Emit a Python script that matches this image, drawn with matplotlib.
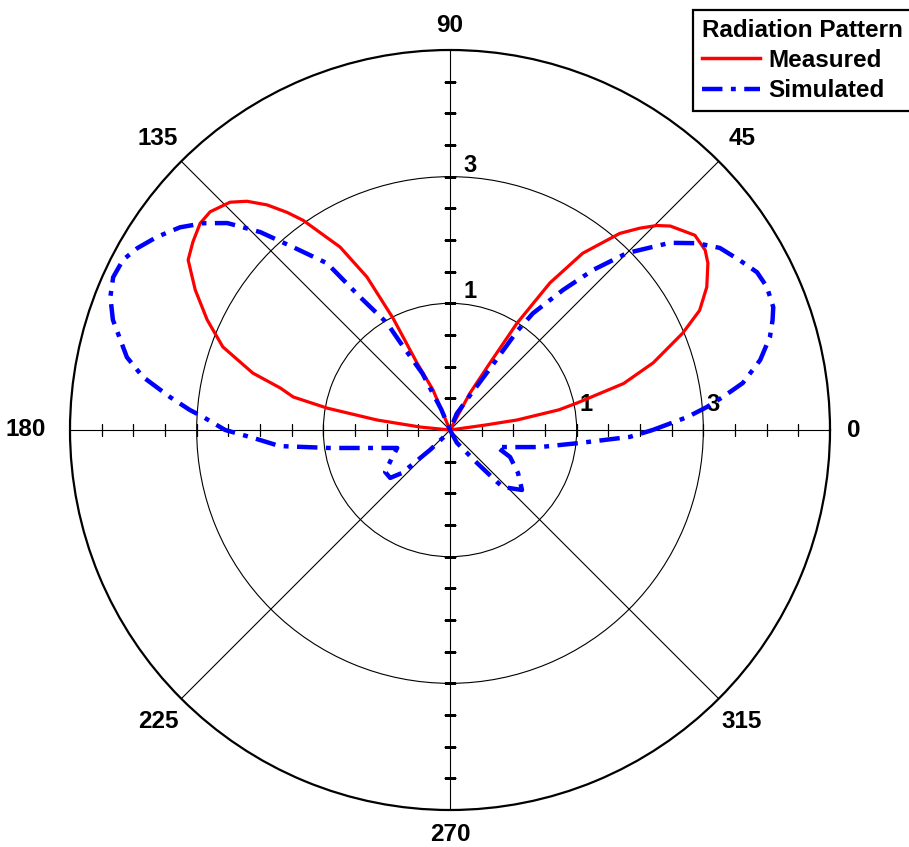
import numpy as np
import matplotlib
matplotlib.use("Agg")
import matplotlib.pyplot as plt
from matplotlib.lines import Line2D

plt.rcParams['font.family'] = ['Liberation Sans', 'DejaVu Sans']

# Medido (angulo en grados, radio en unidades del grafico)
meas_deg = [0, 6.5, 8, 8.5, 10.5, 12, 15, 18.3, 22.6, 25.6, 29.1, 32.9, 35.2, 38.5,
            42.8, 44.7, 46.8, 49.2, 53.1, 55.8, 57.9, 59.2, 61.6, 64, 110, 113,
            116.2, 117, 118.5, 121, 125, 126.8, 129.1, 131.6, 134, 137.7, 140.4,
            143.8, 147, 151.2, 155.6, 159.9, 163.9, 166.1, 168.1, 169.9, 172.2,
            174.3, 176, 360]
meas_r = [-1, -1, -0.45, 0.07, 0.75, 1.05, 1.84, 2.38, 2.98, 3.37, 3.64, 3.85, 3.93,
          3.94, 3.74, 3.59, 3.37, 3.10, 2.49, 1.81, 0.99, 0.23, -0.34, -1, -1, -0.31,
          0.18, 0.98, 1.75, 2.37, 3.04, 3.29, 3.58, 3.83, 4.00, 4.12, 4.12, 4.03,
          3.93, 3.59, 3.21, 2.82, 2.24, 1.76, 1.53, 0.97, 0.16, -0.53, -1, -1]

# Simulado
sim_deg = [0, 3.1, 5.1, 6.9, 9.1, 12.7, 16.2, 18.8, 20.8, 24.3, 27.2, 30.4, 34, 37.1,
           40.4, 42.7, 45, 48.2, 51.1, 54.6, 55.8, 57, 60, 67.6, 75, 105, 113, 116,
           119.6, 120.5, 124.1, 126.4, 130.6, 133.8, 137.1, 140, 143.1, 146.6, 149.8,
           152.5, 155.6, 158.6, 161.9, 167.3, 170.2, 173.3, 175.6, 177, 180, 182.3,
           185.4, 188.5, 192.7, 198.8, 205.8, 212.9, 218.7, 221.8, 225, 228, 232,
           295, 298.3, 309.3, 312.1, 312.9, 320.2, 327.7, 335.8, 340.1, 346.3, 349.3,
           354.3, 357.8, 360]
sim_r = [2.20, 2.75, 3.07, 3.34, 3.68, 4.02, 4.26, 4.38, 4.46, 4.49, 4.45, 4.30, 4.14,
         3.89, 3.56, 3.23, 2.95, 2.39, 1.84, 1.26, 0.89, 0.14, -0.37, -0.72, -1, -1,
         -0.65, -0.01, 0.59, 0.96, 1.54, 2.27, 2.80, 3.33, 3.80, 4.08, 4.33, 4.54,
         4.71, 4.82, 4.84, 4.76, 4.60, 4.23, 3.92, 3.45, 3.12, 2.90, 2.55, 2.11, 1.70,
         0.92, 0.29, -0.12, 0.02, 0.22, 0.21, 0.02, -0.56, -0.84, -1, -1, -0.77,
         -0.33, 0.10, 0.23, 0.48, 0.27, 0.04, -0.21, 0.14, 0.45, 1.06, 1.84, 2.20]

angle_values = [0, 45, 90, 135, 180, 225, 270, 315]
ring_values = [1, 3]

fig = plt.figure(figsize=(9.09, 8.47), dpi=100)
ax = fig.add_axes([70 / 909, 37 / 847, 760 / 909, 760 / 847], projection='polar')
ax.set_rlim(-1, 5)

# curvas
ax.plot(np.deg2rad(meas_deg), meas_r, color='#ff0000', lw=2.3, zorder=4)
ax.plot(np.deg2rad(sim_deg), sim_r, color='#0000ff', lw=3.2,
        linestyle=(0, (4.6, 1.9, 1.1, 1.9)), zorder=5)

# rejilla
ax.set_xticks(np.deg2rad(angle_values))
ax.set_xticklabels([])
ax.set_xticks(np.deg2rad(np.arange(0, 360, 5)), minor=True)
ax.tick_params(axis='x', which='major', length=0)
ax.tick_params(axis='x', which='minor', direction='in', length=7, width=0.8, color='black')
ax.set_yticks(ring_values)
ax.set_yticklabels([])
ax.tick_params(axis='y', length=0)
ax.grid(True, color='black', lw=0.8)
ax.spines['polar'].set_linewidth(1.6)
ax.spines['polar'].set_color('black')

# etiquetas de angulo
for a in angle_values:
    if a % 90 == 45:
        rr = 5.52
    elif a == 180:
        rr = 5.70
    else:
        rr = 5.38
    ax.text(np.deg2rad(a), rr, str(a), ha='center', va='center', fontsize=17.5,
            fontweight='bold', clip_on=False)

# marcas radiales sobre los ejes 0/90/180/270
r_ticks = np.arange(-0.5, 4.6, 0.5)
for th, mk in [(0, '|'), (np.pi, '|'), (np.pi / 2, '_'), (3 * np.pi / 2, '_')]:
    ax.plot(np.full_like(r_ticks, th), r_ticks, linestyle='none', marker=mk,
            markersize=8, mew=0.9, color='black', zorder=3)

# etiquetas de los anillos
for v in ring_values:
    ax.annotate(str(v), xy=(np.pi / 2, v), xytext=(10, 0), textcoords='offset points',
                ha='left', va='bottom', fontsize=17, fontweight='bold')
    ax.annotate(str(v), xy=(0, v), xytext=(2, 10), textcoords='offset points',
                ha='left', va='bottom', fontsize=17, fontweight='bold')

handles = [Line2D([], [], color='#ff0000', lw=2.5),
           Line2D([], [], color='#0000ff', lw=3.2, linestyle=(0, (4.6, 1.9, 1.1, 1.9)))]
leg = fig.legend(handles, ['Measured', 'Simulated'], loc='upper left',
                 bbox_to_anchor=(693 / 909, 1 - 10 / 847), title='Radiation Pattern',
                 prop={'size': 17.5, 'weight': 'bold'},
                 title_fontproperties={'size': 17.5, 'weight': 'bold'},
                 alignment='left', fancybox=False, framealpha=1, edgecolor='black',
                 handlelength=2.4, handletextpad=0.35, borderpad=0.35, labelspacing=0.3,
                 borderaxespad=0)
leg.get_frame().set_linewidth(1.6)

fig.savefig('out.png', dpi=100)
